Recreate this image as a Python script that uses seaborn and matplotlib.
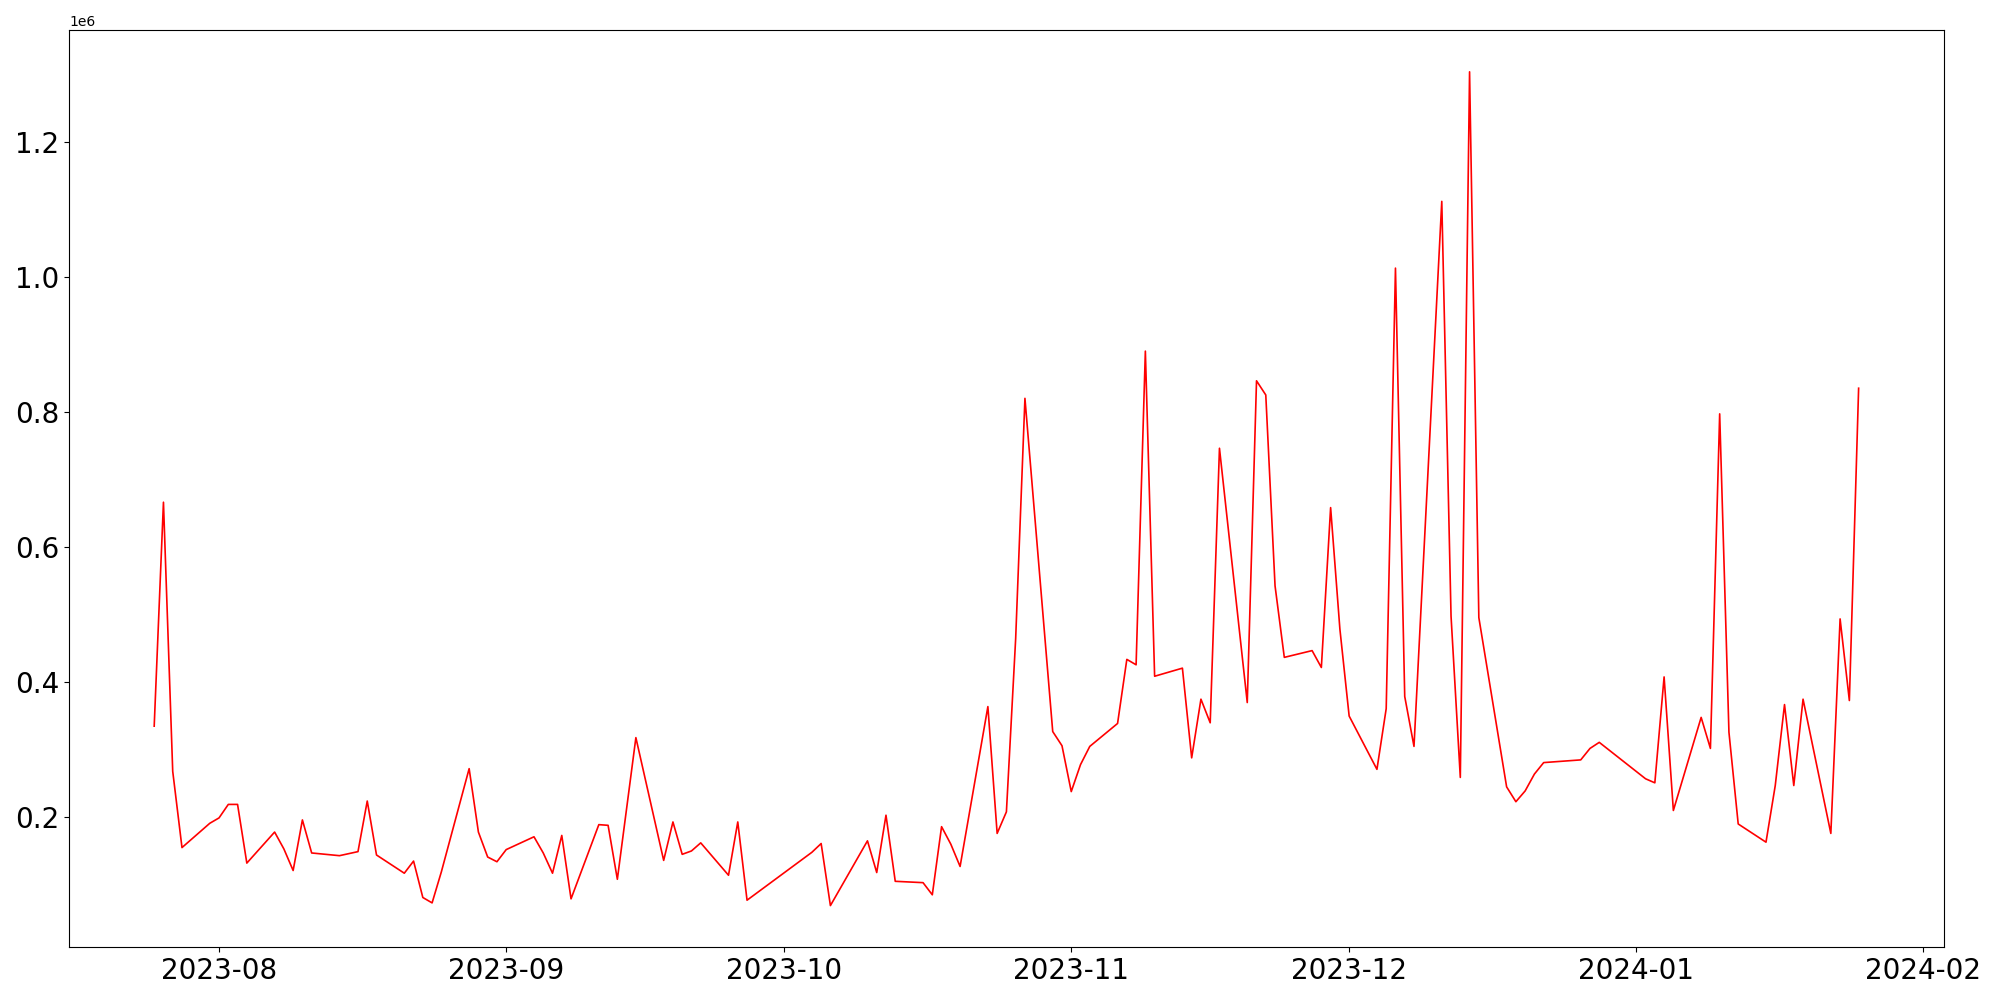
import matplotlib
matplotlib.use('Agg')
import matplotlib.pyplot as plt
import pandas as pd
import seaborn as sns

# daily sales values (missing days are simply absent)
dates = ['2023-07-25', '2023-07-26', '2023-07-27', '2023-07-28', '2023-07-31',
         '2023-08-01', '2023-08-02', '2023-08-03', '2023-08-04', '2023-08-07',
         '2023-08-08', '2023-08-09', '2023-08-10', '2023-08-11', '2023-08-14',
         '2023-08-16', '2023-08-17', '2023-08-18', '2023-08-21', '2023-08-22',
         '2023-08-23', '2023-08-24', '2023-08-25', '2023-08-28', '2023-08-29',
         '2023-08-30', '2023-08-31', '2023-09-01', '2023-09-04', '2023-09-05',
         '2023-09-06', '2023-09-07', '2023-09-08', '2023-09-11', '2023-09-12',
         '2023-09-13', '2023-09-15', '2023-09-18', '2023-09-19', '2023-09-20',
         '2023-09-21', '2023-09-22', '2023-09-25', '2023-09-26', '2023-09-27',
         '2023-10-04', '2023-10-05', '2023-10-06', '2023-10-10', '2023-10-11',
         '2023-10-12', '2023-10-13', '2023-10-16', '2023-10-17', '2023-10-18',
         '2023-10-19', '2023-10-20', '2023-10-23', '2023-10-24', '2023-10-25',
         '2023-10-26', '2023-10-27', '2023-10-30', '2023-10-31', '2023-11-01',
         '2023-11-02', '2023-11-03', '2023-11-06', '2023-11-07', '2023-11-08',
         '2023-11-09', '2023-11-10', '2023-11-13', '2023-11-14', '2023-11-15',
         '2023-11-16', '2023-11-17', '2023-11-20', '2023-11-21', '2023-11-22',
         '2023-11-23', '2023-11-24', '2023-11-27', '2023-11-28', '2023-11-29',
         '2023-11-30', '2023-12-01', '2023-12-04', '2023-12-05', '2023-12-06',
         '2023-12-07', '2023-12-08', '2023-12-11', '2023-12-12', '2023-12-13',
         '2023-12-14', '2023-12-15', '2023-12-18', '2023-12-19', '2023-12-20',
         '2023-12-21', '2023-12-22', '2023-12-26', '2023-12-27', '2023-12-28',
         '2024-01-02', '2024-01-03', '2024-01-04', '2024-01-05', '2024-01-08',
         '2024-01-09', '2024-01-10', '2024-01-11', '2024-01-12', '2024-01-15',
         '2024-01-16', '2024-01-17', '2024-01-18', '2024-01-19', '2024-01-22',
         '2024-01-23', '2024-01-24', '2024-01-25']

amount = [334000, 666000, 267000, 154000, 190000,
          198000, 218000, 218000, 131000, 177000,
          152000, 120000, 195000, 146000, 142000,
          148000, 223000, 143000, 116000, 134000,
          80000, 72000, 118000, 271000, 177000,
          140000, 133000, 151000, 170000, 146000,
          116000, 172000, 78000, 188000, 187000,
          107000, 317000, 135000, 192000, 144000,
          149000, 161000, 113000, 192000, 76000,
          147000, 160000, 68000, 164000, 117000,
          202000, 104000, 102000, 84000, 185000,
          159000, 126000, 363000, 175000, 207000,
          464000, 820000, 326000, 305000, 237000,
          277000, 304000, 338000, 433000, 425000,
          890000, 408000, 420000, 287000, 374000,
          339000, 746000, 369000, 846000, 825000,
          542000, 436000, 446000, 421000, 658000,
          478000, 349000, 270000, 360000, 1013000,
          378000, 304000, 1112000, 497000, 258000,
          1304000, 495000, 244000, 222000, 238000,
          263000, 280000, 284000, 301000, 310000,
          256000, 250000, 407000, 209000, 347000,
          301000, 797000, 325000, 189000, 162000,
          246000, 366000, 246000, 374000, 175000,
          493000, 372000, 835000]

df = pd.DataFrame({'Date': pd.to_datetime(dates), 'Amount': amount})

fig, ax = plt.subplots(figsize=(20, 10))
sns.lineplot(data=df, x='Date', y='Amount', color='red', linewidth=1.2, ax=ax)
ax.set_xlabel('')
ax.set_ylabel('')
plt.xticks(fontsize=20)
plt.yticks(fontsize=20)
plt.tight_layout()
plt.savefig('out.png', dpi=100)
